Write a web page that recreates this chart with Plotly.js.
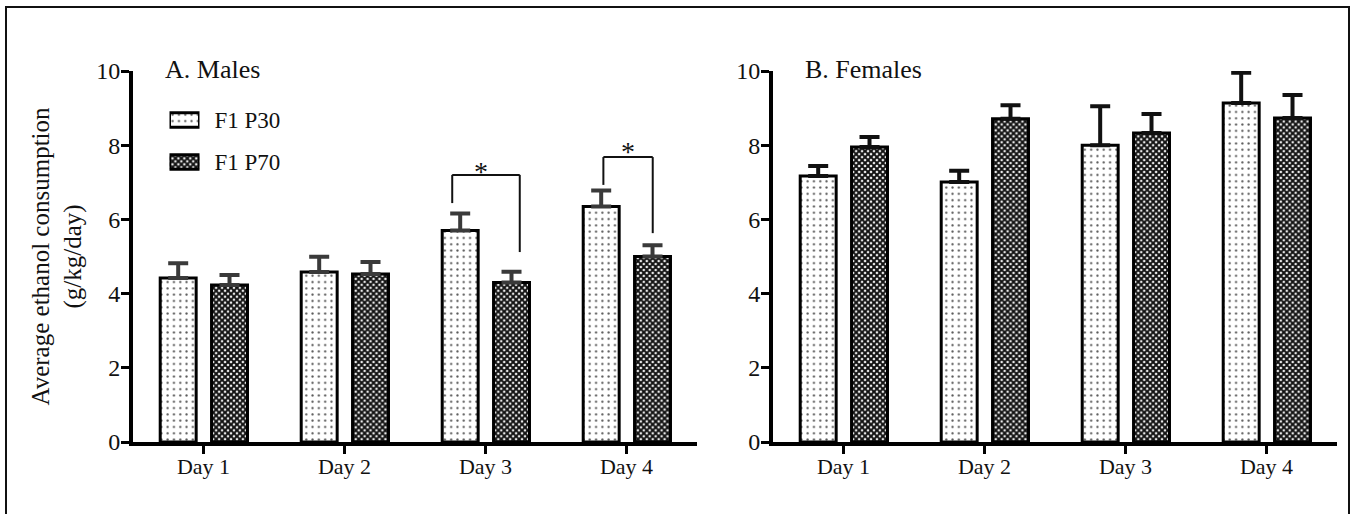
<!DOCTYPE html>
<html>
<head>
<meta charset="utf-8">
<script src="https://cdn.plot.ly/plotly-3.0.1.min.js"></script>
<style>
  html, body { margin: 0; padding: 0; background: #ffffff; overflow: hidden; }
  #wrap { position: relative; width: 1352px; height: 514px; }
  #chart { width: 1352px; height: 514px; }
  #frame { position: absolute; left: 5px; top: 6px; width: 1341px; height: 600px;
           border: 2px solid #111; pointer-events: none; }
</style>
</head>
<body>
<div id="wrap">
  <div id="chart"></div>
  <div id="frame"></div>
</div>
<script>
// ---- data ----
const days = ['Day 1', 'Day 2', 'Day 3', 'Day 4'];
const seriesNames = ['F1 P30', 'F1 P70'];

const maleP30 = [4.42, 4.58, 5.70, 6.35];
const maleP30Err = [0.40, 0.41, 0.46, 0.43];
const maleP70 = [4.23, 4.53, 4.30, 5.00];
const maleP70Err = [0.27, 0.32, 0.29, 0.30];

const femaleP30 = [7.17, 7.01, 8.00, 9.14];
const femaleP30Err = [0.27, 0.30, 1.05, 0.81];
const femaleP70 = [7.95, 8.71, 8.33, 8.73];
const femaleP70Err = [0.27, 0.37, 0.51, 0.62];

const yTicks = [0, 2, 4, 6, 8, 10];

// legend key (one full-width swatch per series)
const legendSwatch = [1];

// significance brackets (male panel): left/right leg x (category index), top, leg bottoms
const sigLeftX = [1.764, 2.836];
const sigRightX = [2.243, 3.186];
const sigTop = [7.20, 7.68];
const sigLeftBottom = [6.44, 6.93];
const sigRightBottom = [5.12, 5.63];
const sigStarX = [1.97, 3.01];
const sigStarY = [7.29, 7.83];

// ---- styling ----
const FONT = '"Liberation Serif", "Times New Roman", serif';
const W = 1352, H = 514;
const px = v => v / W;
const py = v => 1 - v / H;

const barWidth = 0.255;
const offP30 = -0.307;
const offP70 = 0.057;

const patP30 = { shape: '.', bgcolor: '#ffffff', fgcolor: '#555555', size: 6.3, solidity: 0.1 };
const patP70 = { shape: 'x', bgcolor: '#ffffff', fgcolor: '#111111', size: 4.2, solidity: 0.72 };

function barTrace(name, y, err, pat, off, xa, ya, errColor) {
  return {
    type: 'bar', name: name, x: days, y: y,
    xaxis: xa, yaxis: ya,
    width: barWidth, offset: off,
    showlegend: false,
    marker: { color: pat.bgcolor, pattern: pat, line: { color: '#000', width: 3 } },
    error_y: { type: 'data', symmetric: false, array: err, arrayminus: err.map(() => 0),
               color: errColor, thickness: 4, width: 10 },
    hoverinfo: 'skip'
  };
}
function legendTrace(name, pat) {
  return {
    type: 'bar', orientation: 'h', name: name, x: legendSwatch, y: [name],
    xaxis: 'x3', yaxis: 'y3', width: 0.34, base: 0,
    showlegend: false, hoverinfo: 'skip',
    marker: { color: pat.bgcolor, pattern: pat, line: { color: '#000', width: 3 } }
  };
}

const traces = [
  barTrace(seriesNames[0], maleP30, maleP30Err, patP30, offP30, 'x', 'y', '#3a3a3a'),
  barTrace(seriesNames[1], maleP70, maleP70Err, patP70, offP70, 'x', 'y', '#3a3a3a'),
  barTrace(seriesNames[0], femaleP30, femaleP30Err, patP30, offP30, 'x2', 'y2', '#111'),
  barTrace(seriesNames[1], femaleP70, femaleP70Err, patP70, offP70, 'x2', 'y2', '#111'),
  legendTrace(seriesNames[0], patP30),
  legendTrace(seriesNames[1], patP70)
];

function xAxis(domain, anchor) {
  return {
    domain: domain, anchor: anchor, type: 'category',
    range: [-0.5, 3.5], showgrid: false, zeroline: false,
    showline: true, linecolor: '#000', linewidth: 4,
    ticks: 'outside', ticklen: 8, tickwidth: 3, tickcolor: '#000',
    ticklabelstandoff: -6,
    tickfont: { family: FONT, size: 22, color: '#111' },
    fixedrange: true
  };
}
function yAxis(domain, anchor, title) {
  const a = {
    domain: domain, anchor: anchor, range: [0, 10],
    tickvals: yTicks, ticktext: yTicks.map(String),
    showgrid: false, zeroline: false,
    showline: true, linecolor: '#000', linewidth: 4,
    ticks: 'outside', ticklen: 8, tickwidth: 3, tickcolor: '#000',
    ticklabelstandoff: -4,
    tickfont: { family: FONT, size: 24, color: '#111' },
    fixedrange: true
  };
  if (title) a.title = { text: title, font: { family: FONT, size: 25, color: '#111' }, standoff: 8 };
  return a;
}

const yDom = [py(442), py(71)];

const shapes = [];
const annotations = [];
for (let i = 0; i < sigLeftX.length; i++) {
  const line = { color: '#111', width: 2 };
  shapes.push({ type: 'line', xref: 'x', yref: 'y', x0: sigLeftX[i], x1: sigLeftX[i], y0: sigLeftBottom[i], y1: sigTop[i], line: line });
  shapes.push({ type: 'line', xref: 'x', yref: 'y', x0: sigLeftX[i], x1: sigRightX[i], y0: sigTop[i], y1: sigTop[i], line: line });
  shapes.push({ type: 'line', xref: 'x', yref: 'y', x0: sigRightX[i], x1: sigRightX[i], y0: sigRightBottom[i], y1: sigTop[i], line: line });
  annotations.push({ xref: 'x', yref: 'y', x: sigStarX[i], y: sigStarY[i], text: '*', showarrow: false,
                     xanchor: 'center', yanchor: 'middle', font: { family: FONT, size: 28, color: '#111' } });
}
annotations.push({ xref: 'x domain', yref: 'y domain', x: 0.053, y: 1.004, xanchor: 'left', yanchor: 'middle',
                   text: 'A. Males', showarrow: false, font: { family: FONT, size: 26, color: '#111' } });
annotations.push({ xref: 'x2 domain', yref: 'y2 domain', x: 0.053, y: 1.004, xanchor: 'left', yanchor: 'middle',
                   text: 'B. Females', showarrow: false, font: { family: FONT, size: 26, color: '#111' } });

const layout = {
  width: W, height: H,
  margin: { l: 0, r: 0, t: 0, b: 0 },
  paper_bgcolor: '#ffffff', plot_bgcolor: 'rgba(0,0,0,0)',
  barmode: 'overlay',
  showlegend: false,
  xaxis: xAxis([px(133), px(697)], 'y'),
  yaxis: yAxis(yDom, 'x', 'Average ethanol consumption<br>(g/kg/day)'),
  xaxis2: xAxis([px(773), px(1337)], 'y2'),
  yaxis2: yAxis(yDom, 'x2', null),
  xaxis3: { domain: [px(169.5), px(199.5)], anchor: 'y3', range: [0, 1], visible: false, fixedrange: true },
  yaxis3: {
    domain: [py(183), py(99)], anchor: 'x3', side: 'right', type: 'category',
    categoryarray: [seriesNames[1], seriesNames[0]], categoryorder: 'array',
    range: [-0.5, 1.5], showline: false, showgrid: false, zeroline: false, ticks: '',
    ticklabelstandoff: 14,
    tickfont: { family: FONT, size: 23, color: '#111' }, fixedrange: true
  },
  shapes: shapes,
  annotations: annotations
};

Plotly.newPlot('chart', traces, layout, { staticPlot: true, displayModeBar: false });
</script>
</body>
</html>
